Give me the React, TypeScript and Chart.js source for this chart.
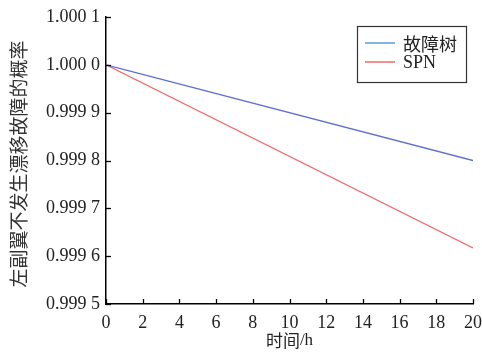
import React, { useEffect, useRef } from "react";
import { Chart, registerables } from "chart.js";

Chart.register(...registerables);

const HOURS = [0, 20];
const FAULT_TREE = [1.0, 0.9998];
const SPN = [1.0, 0.999617];
const Y_TICKS = [0.9995, 0.9996, 0.9997, 0.9998, 0.9999, 1.0, 1.0001];
const X_TICKS = [0, 2, 4, 6, 8, 10, 12, 14, 16, 18, 20];
const SERIES_NAMES = ["故障树", "SPN"];
const Y_TITLE = "左副翼不发生漂移故障的概率";
const X_TITLE = "时间/h";

const FONT = "Liberation Serif";
const CJK = "Noto Sans CJK SC";
const PLOT_BLUE = "#5e6fd0";
const LEGEND_BLUE = "#5b9bd5";
const RED = "#f06a6a";

export default function App() {
  const ref = useRef<HTMLCanvasElement | null>(null);

  useEffect(() => {
    document.body.style.margin = "0";
    const canvas = ref.current;
    if (!canvas) return;

    const drawMixed = (ctx: any, text: string, x: number, y: number, size: number, align: string) => {
      const parts: { t: string; f: string }[] = [];
      for (const ch of text) {
        const isCjk = /[\u3000-\u9fff]/.test(ch);
        const f = isCjk ? `${size}px ${CJK}` : `${size}px ${FONT}`;
        if (parts.length && parts[parts.length - 1].f === f) parts[parts.length - 1].t += ch;
        else parts.push({ t: ch, f });
      }
      let total = 0;
      parts.forEach((p) => {
        ctx.font = p.f;
        total += ctx.measureText(p.t).width;
      });
      let cx = align === "center" ? x - total / 2 : x;
      ctx.textAlign = "left";
      parts.forEach((p) => {
        ctx.font = p.f;
        ctx.fillText(p.t, cx, y);
        cx += ctx.measureText(p.t).width;
      });
    };

    const decor = {
      id: "decor",
      afterDraw(chart: any) {
        const ctx = chart.ctx;
        const { left, bottom } = chart.chartArea;
        const xs = chart.scales.x;
        const ys = chart.scales.y;
        ctx.save();
        ctx.strokeStyle = "#000";
        ctx.lineWidth = 1.3;
        X_TICKS.forEach((v) => {
          const px = Math.round(xs.getPixelForValue(v)) + 0.5;
          ctx.beginPath();
          ctx.moveTo(px, bottom);
          ctx.lineTo(px, bottom - 5);
          ctx.stroke();
        });
        Y_TICKS.forEach((v) => {
          const py = Math.round(ys.getPixelForValue(v)) + 0.5;
          ctx.beginPath();
          ctx.moveTo(left, py);
          ctx.lineTo(left + 5, py);
          ctx.stroke();
        });
        ctx.lineWidth = 1.2;
        ctx.strokeStyle = "#333";
        ctx.strokeRect(357.5, 26.5, 109, 56);
        const rows = [
          { name: SERIES_NAMES[0], color: LEGEND_BLUE, y: 43 },
          { name: SERIES_NAMES[1], color: RED, y: 62 },
        ];
        rows.forEach((r) => {
          ctx.strokeStyle = r.color;
          ctx.lineWidth = 1.5;
          ctx.beginPath();
          ctx.moveTo(365, r.y);
          ctx.lineTo(395, r.y);
          ctx.stroke();
          ctx.fillStyle = "#222";
          ctx.textBaseline = "middle";
          drawMixed(ctx, r.name, 403, r.y + 1, 18, "left");
        });
        ctx.fillStyle = "#333";
        ctx.font = `19px ${CJK}`;
        ctx.textAlign = "center";
        ctx.textBaseline = "middle";
        ctx.save();
        ctx.translate(19, 164);
        ctx.rotate(-Math.PI / 2);
        ctx.fillText(Y_TITLE, 0, 0);
        ctx.restore();
        ctx.fillStyle = "#222";
        ctx.textBaseline = "middle";
        drawMixed(ctx, X_TITLE, (chart.chartArea.left + chart.chartArea.right) / 2, 341, 17, "center");
        ctx.restore();
      },
    };

    const chart = new Chart(canvas, {
      type: "line",
      data: {
        datasets: [
          {
            label: SERIES_NAMES[0],
            data: HOURS.map((h, i) => ({ x: h, y: FAULT_TREE[i] })),
            borderColor: PLOT_BLUE,
            borderWidth: 1.3,
            pointRadius: 0,
            tension: 0,
          },
          {
            label: SERIES_NAMES[1],
            data: HOURS.map((h, i) => ({ x: h, y: SPN[i] })),
            borderColor: RED,
            borderWidth: 1.3,
            pointRadius: 0,
            tension: 0,
          },
        ],
      },
      options: {
        animation: false,
        responsive: false,
        devicePixelRatio: 1,
        layout: { padding: { left: 0, top: 17, right: 9, bottom: 0 } },
        plugins: { legend: { display: false }, tooltip: { enabled: false } },
        scales: {
          x: {
            type: "linear",
            min: 0,
            max: 20,
            grid: { display: false, drawTicks: false },
            border: { display: true, color: "#000", width: 1.5 },
            afterBuildTicks: (s: any) => {
              s.ticks = X_TICKS.map((v) => ({ value: v }));
            },
            ticks: {
              autoSkip: false,
              maxRotation: 0,
              padding: 8,
              color: "#222",
              font: { family: FONT, size: 18 },
            },
            afterFit: (s: any) => {
              s.height = 49;
              s.paddingLeft = 0;
              s.paddingRight = 0;
            },
          },
          y: {
            type: "linear",
            min: 0.9995,
            max: 1.0001,
            grid: { display: false, drawTicks: false },
            border: { display: true, color: "#000", width: 1.5 },
            afterBuildTicks: (s: any) => {
              s.ticks = Y_TICKS.map((v) => ({ value: v }));
            },
            ticks: {
              autoSkip: false,
              padding: 6,
              color: "#222",
              font: { family: FONT, size: 18 },
              callback: (v: any) => {
                const s = Number(v).toFixed(4);
                return s.slice(0, 5) + " " + s.slice(5);
              },
            },
            afterFit: (s: any) => {
              s.width = 106;
              s.paddingTop = 0;
              s.paddingBottom = 0;
            },
          },
        },
      },
      plugins: [decor],
    });

    return () => chart.destroy();
  }, []);

  return (
    <div style={{ width: 482, height: 353, background: "#fff" }}>
      <canvas ref={ref} width={482} height={353} style={{ display: "block" }} />
    </div>
  );
}
